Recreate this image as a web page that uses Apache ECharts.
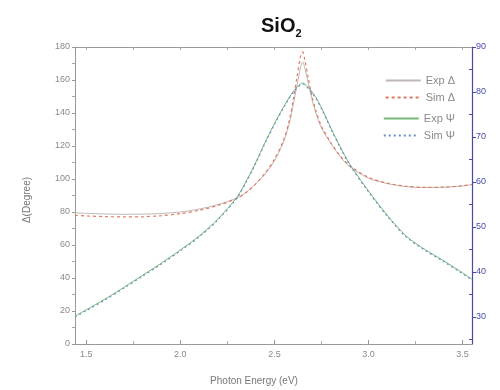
<!DOCTYPE html>
<html><head><meta charset="utf-8">
<script src="https://cdn.jsdelivr.net/npm/echarts@6/dist/echarts.min.js"></script>
<style>html,body{margin:0;padding:0;background:#fff}#c{width:500px;height:390px}</style>
</head><body><div id="c"></div>
<script>
const energy = [1.44,1.5,1.6,1.7,1.8,1.9,2.0,2.1,2.2,2.3,2.35,2.4,2.45,2.5,2.55,2.58,2.6,2.62,2.64,2.65,2.66,2.68,2.7,2.72,2.75,2.8,2.85,2.9,3.0,3.1,3.2,3.3,3.4,3.5,3.55];
const expDelta = [79.5,79.2,78.8,78.6,78.7,79.1,80.0,81.8,84.5,88.5,92,97,103,111,123,134,145,157,168,171,168,158,148,140,131,121.5,113.5,107.5,100.5,97.2,95.4,94.8,95.0,95.8,96.6];
const simDelta = [78.0,77.6,77.2,77.0,77.1,77.8,79.0,81.0,84.0,88.2,91.8,97,103.5,112,124,136,148,162,175,177,173,161,150,141.5,132,122,114,108,101,97.5,95.6,94.9,95.1,95.9,96.8];
const expPsi = [30.2,31.6,34.0,36.6,39.3,42.0,44.9,48.0,51.8,56.6,60.2,64.3,68.8,73.0,76.8,78.9,80.1,81.1,81.8,82.0,81.8,81.0,80.0,78.8,76.5,72.0,67.8,64.0,58.0,52.6,48.0,45.0,42.5,39.8,38.4];
const simPsi = [30.0,31.4,33.8,36.4,39.1,41.8,44.7,47.8,51.6,56.4,60.0,64.1,68.6,72.8,76.6,78.7,79.9,80.9,81.6,81.8,81.6,80.8,79.8,78.6,76.3,71.8,67.6,63.8,57.8,52.4,47.8,44.8,42.3,39.6,38.2];
const xTicks = [1.5,2.0,2.5,3.0,3.5];
const xMinorTicks = [1.75,2.25,2.75,3.25];
const rightTicks = [30,40,50,60,70,80,90];
const rightMinorTicks = [25,35,45,55,65,75,85];
const seriesNames = ['Exp \u0394','Sim \u0394','Exp \u03A8','Sim \u03A8'];

const pair = arr => energy.map((e,i)=>[e,arr[i]]);
const chart = echarts.init(document.getElementById('c'), null, {renderer:'canvas'});
const gray = '#8a8a8a';
const blue = '#4a4aa6';
const lblFont = {color:gray, fontSize:9, fontFamily:'Liberation Sans'};
const legendText = {color:gray,fontSize:11,fontFamily:'Liberation Sans'};
const legendCommon = {orient:'vertical', right:40, itemWidth:35, itemHeight:10, itemGap:6, textStyle:legendText,
  itemStyle:{color:'transparent', borderWidth:0}};
chart.setOption({
  animation:false,
  backgroundColor:'#fff',
  grid:{left:75,right:28,top:47,bottom:46},
  title:{
    text:'{a|SiO}{b|2}', left:256, top:9,
    textStyle:{rich:{
      a:{fontSize:20,fontFamily:'Liberation Sans',color:'#111'},
      b:{fontSize:11,fontFamily:'Liberation Sans',color:'#111',padding:[14,0,0,0]}
    }}
  },
  legend:[
    {data:seriesNames.slice(0,2), top:70, ...legendCommon},
    {data:seriesNames.slice(2,4), top:108, ...legendCommon}
  ],
  xAxis:[
    {type:'value', position:'bottom', min:1.44, max:3.55,
     axisLine:{lineStyle:{color:'#999'}}, splitLine:{show:false},
     axisTick:{customValues:xTicks, inside:true, length:4, lineStyle:{color:'#999'}},
     axisLabel:{customValues:xTicks, formatter:v=>v.toFixed(1), ...lblFont, margin:6}},
    {type:'value', position:'bottom', min:1.44, max:3.55, gridIndex:0,
     axisLine:{show:false}, splitLine:{show:false}, axisLabel:{show:false},
     axisTick:{customValues:xMinorTicks, inside:true, length:3, lineStyle:{color:'#aaa'}}},
    {type:'value', position:'top', min:1.44, max:3.55,
     axisLine:{lineStyle:{color:'#999'}}, splitLine:{show:false}, axisLabel:{show:false},
     axisTick:{customValues:xTicks.concat(xMinorTicks), inside:true, length:3, lineStyle:{color:'#aaa'}}}
  ],
  yAxis:[
    {type:'value', position:'left', min:0, max:180, interval:20,
     axisLine:{show:true, lineStyle:{color:'#999'}}, splitLine:{show:false},
     axisTick:{show:true, length:3, lineStyle:{color:'#999'}},
     minorTick:{show:true, splitNumber:2, length:3, lineStyle:{color:'#aaa'}},
     axisLabel:{...lblFont, margin:5}},
    {type:'value', position:'right', min:24, max:90,
     axisLine:{show:true, lineStyle:{color:blue, width:1.2}}, splitLine:{show:false},
     axisTick:{show:true, customValues:rightTicks, length:4, lineStyle:{color:blue}},
     axisLabel:{customValues:rightTicks, color:blue, fontSize:9, fontFamily:'Liberation Sans', margin:4}},
    {type:'value', position:'right', min:24, max:90,
     axisLine:{show:false}, splitLine:{show:false}, axisLabel:{show:false},
     axisTick:{show:true, customValues:rightMinorTicks, inside:true, length:3, lineStyle:{color:blue}}}
  ],
  graphic:[
    {type:'text', x:254, y:381, style:{text:'Photon Energy (eV)', fill:'#777', fontSize:10, fontFamily:'Liberation Sans', align:'center', verticalAlign:'middle'}},
    {type:'text', x:27, y:200, rotation:Math.PI/2, style:{text:'\u0394(Degree)', fill:'#777', fontSize:10, fontFamily:'Liberation Sans', align:'center', verticalAlign:'middle'}}
  ],
  series:[
    {name:seriesNames[0], type:'line', xAxisIndex:0, yAxisIndex:0, data:pair(expDelta), symbol:'none', smooth:0.3,
     lineStyle:{color:'#c0b8b8', width:1}, itemStyle:{color:'#c0b8b8'}},
    {name:seriesNames[1], type:'line', xAxisIndex:0, yAxisIndex:0, data:pair(simDelta), symbol:'none', smooth:0.3,
     lineStyle:{color:'#e07a62', width:1.2, type:[3,3]}, itemStyle:{color:'#e07a62'}},
    {name:seriesNames[2], type:'line', xAxisIndex:0, yAxisIndex:1, data:pair(expPsi), symbol:'none', smooth:0.3,
     lineStyle:{color:'#78b878', width:1}, itemStyle:{color:'#78b878'}},
    {name:seriesNames[3], type:'line', xAxisIndex:0, yAxisIndex:1, data:pair(simPsi), symbol:'none', smooth:0.3,
     lineStyle:{color:'#6a8ec8', width:1.2, type:[2,3]}, itemStyle:{color:'#6a8ec8'}}
  ]
});
</script></body></html>
